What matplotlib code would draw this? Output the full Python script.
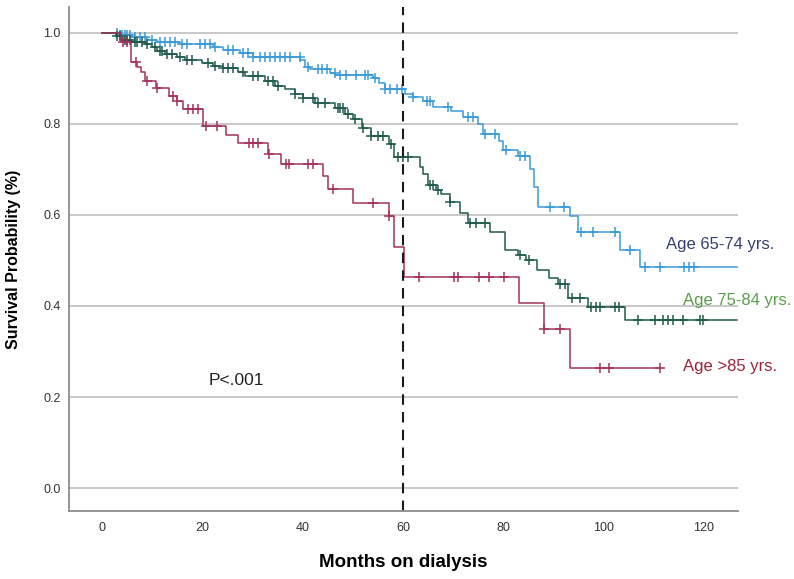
import matplotlib.pyplot as plt
import numpy as np

# Kaplan-Meier steps: (month, survival after the step)
blue_t = [0, 3.5, 6, 9, 11, 15.5, 22, 24, 27.5, 30, 39.5, 40.5, 41.5, 45.5, 46.5,
          54, 55.2, 56.3, 60.4, 62, 64, 66, 69.5, 72, 74.9, 75.9, 79.2, 80.0, 83.0,
          85.3, 86.0, 86.9, 93.2, 94.9, 103.2, 107.2, 126.5]
blue_s = [1.0, 0.995, 0.99, 0.985, 0.98, 0.975, 0.97, 0.963, 0.955, 0.948, 0.94,
          0.925, 0.92, 0.912, 0.908, 0.90, 0.89, 0.877, 0.866, 0.86, 0.85, 0.838,
          0.828, 0.815, 0.80, 0.778, 0.762, 0.743, 0.729, 0.702, 0.662, 0.618, 0.598,
          0.563, 0.524, 0.485, 0.485]
blue_cens = [3, 3.5, 4, 4.5, 5, 5.5, 6.5, 7.5, 8.5, 10, 11.5, 12.5, 13.5, 14.5, 16, 17,
             19.5, 20.5, 21.5, 22.5, 25, 26, 28, 29, 30.1, 31.5, 32.5, 33.5, 34.5, 35.5,
             36.5, 37.5, 39.4, 41.1, 43.1, 43.8, 44.8, 46.4, 47.4, 48.7, 50.7, 52.4, 53.1,
             54.4, 56.4, 57.4, 58.7, 59.7, 62.0, 64.7, 65.3, 69.0, 73.0, 74.0, 76.3, 78.3,
             80.6, 83.3, 84.3, 89.2, 92.0, 95.5, 97.9, 102.2, 105.2, 108.2, 111.2, 116.1,
             117.1, 118.1]

green_t = [0, 2.8, 4, 6, 8.5, 10, 11, 12.5, 15, 16.5, 20, 22, 24, 27, 28.5, 32.5, 34.5,
           36.5, 38.5, 40, 42.5, 46.5, 48.5, 50, 51.8, 53.5, 57.2, 58.2, 63.4, 64.0, 65.0,
           66.5, 67.5, 69.3, 71.3, 73.0, 77.3, 80.3, 83.0, 84.5, 86.6, 89.0, 90.8, 92.9,
           96.9, 104.2, 126.5]
green_s = [1.0, 0.993, 0.985, 0.98, 0.975, 0.968, 0.96, 0.953, 0.946, 0.94, 0.933, 0.928,
           0.922, 0.915, 0.905, 0.895, 0.884, 0.876, 0.866, 0.856, 0.846, 0.836, 0.822,
           0.81, 0.792, 0.774, 0.755, 0.728, 0.706, 0.69, 0.666, 0.655, 0.645, 0.629,
           0.604, 0.582, 0.563, 0.523, 0.512, 0.50, 0.479, 0.461, 0.449, 0.417, 0.398,
           0.369, 0.369]
green_cens = [3, 3.5, 4.5, 5, 5.5, 6.5, 7, 8, 9, 10.5, 11.5, 12, 13, 14, 15.5, 17, 18, 21,
              22.5, 24, 25, 26, 28, 30, 31, 33, 34, 35, 38.5, 40, 42, 43, 44.5, 47, 47.5,
              48, 49, 50.5, 52, 53.5, 55, 56, 57.5, 59, 60, 61, 65.3, 66.0, 67.0, 69.3,
              73.3, 74.6, 76.3, 83.3, 85.1, 91.2, 92.2, 93.6, 95.2, 97.5, 98.5, 99.2,
              102.2, 103.0, 106.8, 110.2, 111.8, 112.8, 113.8, 115.8, 119.1, 119.8]

red_t = [0, 3.7, 5.8, 6.9, 7.7, 8.6, 10.7, 13.4, 14.9, 16.2, 20.1, 24.7, 27.1, 33.1,
         35.7, 44.0, 45.1, 50.1, 57.1, 58.1, 60.1, 83.1, 88.0, 93.2, 111.2]
red_s = [1.0, 0.98, 0.937, 0.926, 0.913, 0.895, 0.88, 0.862, 0.85, 0.833, 0.796, 0.776,
         0.757, 0.735, 0.713, 0.685, 0.657, 0.626, 0.597, 0.529, 0.464, 0.406, 0.349,
         0.263, 0.263]
red_cens = [4.25, 4.9, 6.8, 9.0, 11.0, 14.2, 15.0, 17.2, 18.2, 19.2, 20.8, 22.8, 29.3,
            30.1, 31.0, 33.3, 36.7, 37.3, 41.1, 42.1, 46.1, 54.0, 57.2, 63.2, 70.1, 71.0,
            75.2, 77.1, 80.1, 88.0, 91.2, 99.2, 101.1, 111.2]

labels = ["Age 65-74 yrs.", "Age 75-84 yrs.", "Age >85 yrs."]
label_pos = [(112.5, 0.534), (115.9, 0.411), (115.9, 0.266)]
line_colors = ["#3b9bd8", "#1f5b4d", "#a3325d"]
label_colors = ["#33406e", "#5a9e4a", "#9b2438"]


def surv_at(t, s, c):
    idx = np.searchsorted(t, c, side="right") - 1
    return np.array(s)[idx]


plt.rcParams["font.family"] = ["Liberation Sans", "DejaVu Sans"]
fig = plt.figure(figsize=(7.94, 5.79), dpi=100)
ax = fig.add_axes([0.087, 0.1174, 0.842, 0.8706])

for yv in [0.0, 0.2, 0.4, 0.6, 0.8, 1.0]:
    ax.axhline(yv, color="#c4c4c4", lw=1.3, zorder=0)

curves = [(blue_t, blue_s, blue_cens), (green_t, green_s, green_cens), (red_t, red_s, red_cens)]
for (t, s, c), col in zip(curves, line_colors):
    ax.step(t, s, where="post", color=col, lw=1.1)
    ax.plot(c, surv_at(t, s, c), ls="none", marker="+", ms=7, mew=1.1, color=col)

ax.axvline(60, color="#1a1a1a", lw=1.5, ls=(0, (5, 3.5)))

for lab, (x, y), col in zip(labels, label_pos, label_colors):
    ax.text(x, y, lab, color=col, fontsize=12, va="center", ha="left", clip_on=False)

ax.text(26.7, 0.237, "P<.001", fontsize=12.5, ha="center", va="center", color="#222222")

ax.set_xlim(-6.6, 126.7)
ax.set_ylim(-0.0505, 1.057)
ax.set_xticks([0, 20, 40, 60, 80, 100, 120])
ax.set_yticks([0.0, 0.2, 0.4, 0.6, 0.8, 1.0])
ax.set_yticklabels(["0.0", "0.2", "0.4", "0.6", "0.8", "1.0"])
ax.tick_params(length=0, labelsize=9, labelcolor="#333333", pad=8)
ax.tick_params(axis="y", pad=6)
for sp in ["top", "right"]:
    ax.spines[sp].set_visible(False)
for sp in ["left", "bottom"]:
    ax.spines[sp].set_color("#8c8c8c")
    ax.spines[sp].set_linewidth(1.3)

ax.set_xlabel("Months on dialysis", fontsize=13.5, fontweight="bold", labelpad=14)
ax.set_ylabel("Survival Probability (%)", fontsize=11.5, fontweight="bold", labelpad=16)

fig.savefig("out.png", dpi=100)
